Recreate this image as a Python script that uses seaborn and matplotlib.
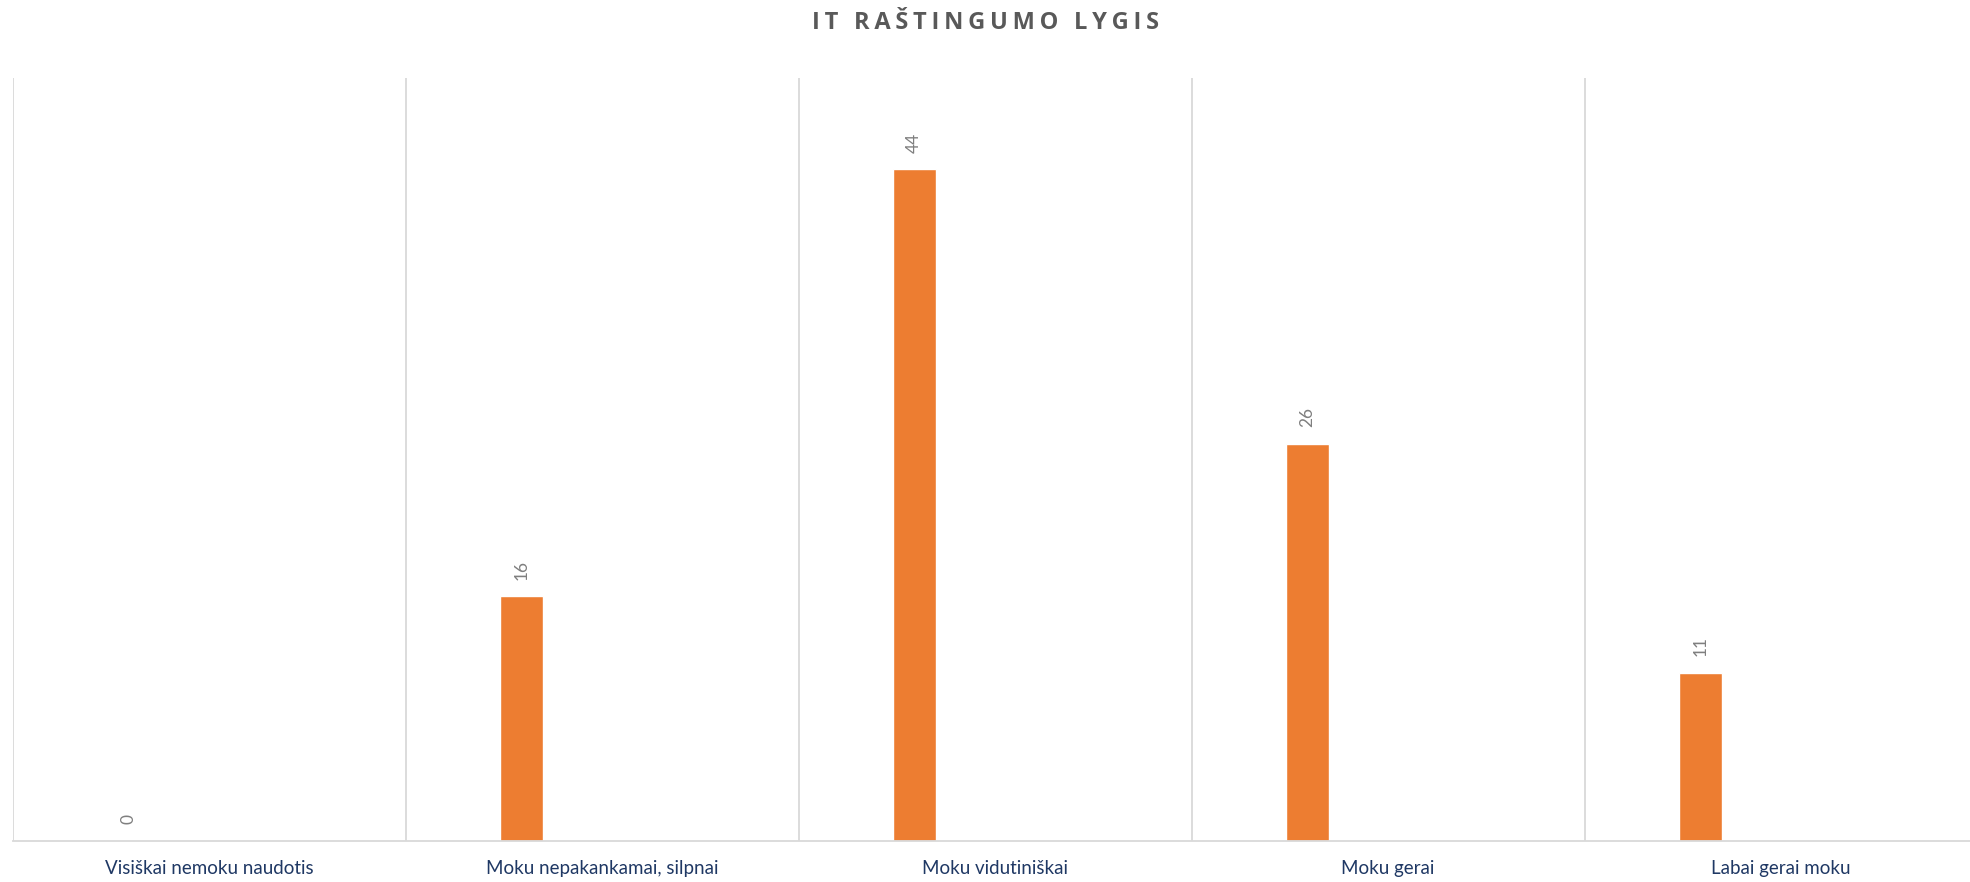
import matplotlib
matplotlib.use("Agg")
import matplotlib.pyplot as plt
import seaborn as sns
import pandas as pd

# data
categories = [
    "Visiškai nemoku naudotis",
    "Moku nepakankamai, silpnai",
    "Moku vidutiniškai",
    "Moku gerai",
    "Labai gerai moku",
]
values = [0, 16, 44, 26, 11]
title = "IT RAŠTINGUMO LYGIS"

df = pd.DataFrame({"kategorija": categories, "reiksme": values})

sns.set_theme(style="white")
plt.rcParams["font.family"] = ["Lato", "DejaVu Sans"]

fig = plt.figure(figsize=(19.7, 8.82), dpi=100)
ax = fig.add_axes([0.0064, 0.047, 0.9975, 0.8647])

bar_w = 0.109
shift = -0.206
sns.barplot(data=df, x="kategorija", y="reiksme", color="#ED7D31",
            saturation=1, width=bar_w, ax=ax)

# move bars left of category centre (like a clustered Excel column)
for p in ax.patches:
    p.set_x(p.get_x() + shift)

ax.bar_label(ax.containers[0], labels=[str(v) for v in values],
             rotation=90, padding=12, fontsize=12.5, color="#7F7F7F")

ax.set_xlim(-0.5, len(categories) - 0.5)
ax.set_ylim(0, 50)

# vertical separators between categories
for i in range(len(categories) + 1):
    ax.axvline(i - 0.5, color="#D9D9D9", lw=1.3, zorder=0)

for s in ["top", "right", "left"]:
    ax.spines[s].set_visible(False)
ax.spines["bottom"].set_color("#D9D9D9")
ax.spines["bottom"].set_linewidth(1.3)

ax.set_yticks([])
ax.set_xlabel("")
ax.set_ylabel("")
ax.tick_params(axis="x", length=0, pad=14, labelsize=13.5, labelcolor="#1F3864")

# letter-spaced title (thin spaces between letters)
spaced = "\u2009".join(title)
fig.text(0.5, 0.974, spaced, ha="center", va="center", fontsize=17,
         fontweight="bold", color="#595959", family=["Open Sans", "DejaVu Sans"])

fig.savefig("out.png", dpi=100)
